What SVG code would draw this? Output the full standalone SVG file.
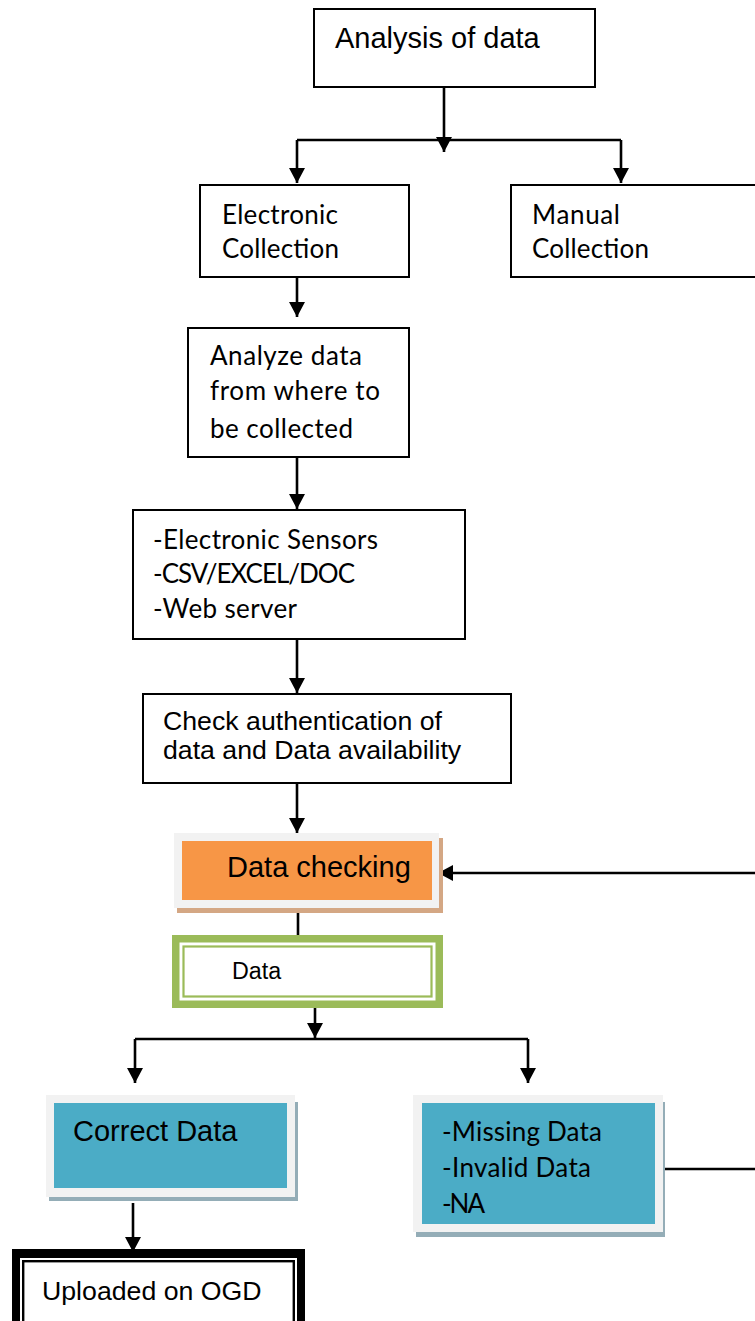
<svg xmlns="http://www.w3.org/2000/svg" width="755" height="1321" viewBox="0 0 755 1321">
<style>
.box{fill:#fff;stroke:#000;stroke-width:2}
.ar{font-family:"Liberation Sans",Arial,sans-serif;fill:#000}
.cb{font-family:Lato,"Open Sans",sans-serif;font-size:26px;fill:#000}
.con{fill:none;stroke:#000;stroke-width:2.6}
.frame{fill:#f2f2f2}
</style>
<defs>
<marker id="ah" markerUnits="userSpaceOnUse" markerWidth="16" markerHeight="16" refX="15" refY="8" orient="auto">
<path d="M0,0 L15,8 L0,16 z" fill="#000"/>
</marker>
</defs>
<rect width="755" height="1321" fill="#fff"/>
<g id="connectors">
<line class="con" x1="444" y1="87" x2="444" y2="152" marker-end="url(#ah)"/>
<polyline class="con" points="297,140 297,183" marker-end="url(#ah)"/>
<line class="con" x1="297" y1="140" x2="621" y2="140"/>
<polyline class="con" points="621,140 621,183" marker-end="url(#ah)"/>
<line class="con" x1="297" y1="277" x2="297" y2="317" marker-end="url(#ah)"/>
<line class="con" x1="297" y1="457" x2="297" y2="509" marker-end="url(#ah)"/>
<line class="con" x1="297" y1="639" x2="297" y2="693" marker-end="url(#ah)"/>
<line class="con" x1="297" y1="783" x2="297" y2="833" marker-end="url(#ah)"/>
<line class="con" x1="755" y1="873" x2="438" y2="873" marker-end="url(#ah)"/>
<line class="con" x1="298" y1="900" x2="298" y2="935"/>
<line class="con" x1="315" y1="1008" x2="315" y2="1038" marker-end="url(#ah)"/>
<line class="con" x1="135" y1="1039" x2="528" y2="1039"/>
<line class="con" x1="135" y1="1039" x2="135" y2="1083" marker-end="url(#ah)"/>
<line class="con" x1="528" y1="1039" x2="528" y2="1083" marker-end="url(#ah)"/>
<line class="con" x1="133" y1="1203" x2="133" y2="1252" marker-end="url(#ah)"/>
<line class="con" x1="658" y1="1169" x2="755" y2="1169"/>
</g>
<g id="analysis">
<rect class="box" x="314" y="9" width="281" height="78"/>
<text class="ar" x="335" y="48" font-size="29">Analysis of data</text>
</g>
<g id="electronic">
<rect class="box" x="200" y="185" width="209" height="92"/>
<text class="cb" x="222" y="224" textLength="116">Electronic</text>
<text class="cb" x="222" y="258" textLength="117">Collection</text>
</g>
<g id="manual">
<rect class="box" x="511" y="185" width="260" height="92"/>
<text class="cb" x="532" y="224" textLength="88">Manual</text>
<text class="cb" x="532" y="258" textLength="117">Collection</text>
</g>
<g id="analyze">
<rect class="box" x="188" y="328" width="221" height="129"/>
<text class="cb" x="210" y="365" textLength="152">Analyze data</text>
<text class="cb" x="210" y="400" textLength="170">from where to</text>
<text class="cb" x="210" y="438" textLength="143">be collected</text>
</g>
<g id="sources">
<rect class="box" x="133" y="510" width="332" height="129"/>
<text class="cb" x="153" y="549" textLength="225">-Electronic Sensors</text>
<text class="cb" x="153" y="583" textLength="202">-CSV/EXCEL/DOC</text>
<text class="cb" x="153" y="618" textLength="144">-Web server</text>
</g>
<g id="check">
<rect class="box" x="143" y="694" width="368" height="89"/>
<text class="ar" x="163" y="730" font-size="26.7">Check authentication of</text>
<text class="ar" x="163" y="759" font-size="26.7">data and Data availability</text>
</g>
<g id="datachecking">
<rect x="177" y="838" width="266" height="75" fill="#d4a784"/>
<rect class="frame" x="174" y="833" width="265" height="75"/>
<rect x="182" y="841" width="250" height="59" fill="#f79646"/>
<text class="ar" x="227" y="877" font-size="29">Data checking</text>
</g>
<g id="data">
<rect x="172" y="935" width="271" height="73" fill="#9bbb59"/>
<rect x="179.5" y="942.5" width="256" height="58" fill="#fff"/>
<rect x="183.5" y="946.5" width="248" height="50" fill="#fff" stroke="#9bbb59" stroke-width="2.2"/>
<text class="ar" x="232" y="979" font-size="23.3">Data</text>
</g>
<g id="correct">
<rect x="49" y="1102" width="249" height="99" fill="#94adb7"/>
<rect class="frame" x="46" y="1095" width="249" height="102"/>
<rect x="54" y="1103" width="233" height="85" fill="#4bacc6"/>
<text class="ar" x="73" y="1141" font-size="29">Correct Data</text>
</g>
<g id="invalid">
<rect x="416" y="1102" width="249" height="135" fill="#94adb7"/>
<rect class="frame" x="413" y="1095" width="250" height="137"/>
<rect x="422" y="1103" width="233" height="121" fill="#4bacc6"/>
<text class="cb" x="442" y="1141" textLength="160">-Missing Data</text>
<text class="cb" x="442" y="1177" textLength="149">-Invalid Data</text>
<text class="cb" x="442" y="1213" textLength="43">-NA</text>
</g>
<g id="uploaded">
<rect x="12" y="1249" width="293" height="90" fill="#000"/>
<rect x="20" y="1258" width="277" height="80" fill="#fff"/>
<rect x="23.2" y="1261.2" width="270.6" height="80" fill="#fff" stroke="#000" stroke-width="2.4"/>
<text class="ar" x="42" y="1300" font-size="26.7">Uploaded on OGD</text>
</g>
</svg>
